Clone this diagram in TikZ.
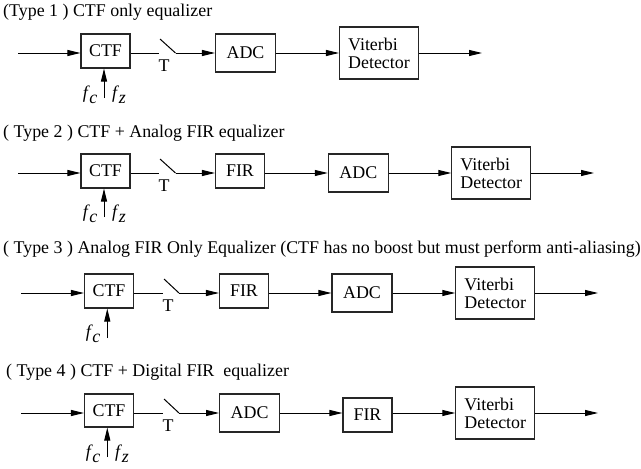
\documentclass[tikz,border=0pt]{standalone}
\usepackage{fontspec}
\setmainfont{Liberation Serif}
\usetikzlibrary{arrows.meta}
\newcommand{\myfc}{\textit{f}\kern-0.5pt\raisebox{-5pt}{\textit{c}}}
\newcommand{\myfz}{\textit{f}\kern-0.5pt\raisebox{-5pt}{\textit{z}}}
\begin{document}
\begin{tikzpicture}[x=1pt,y=-1pt,
  txt/.style={font=\fontsize{17.9}{18}\selectfont},
  blk/.style={draw=black!85, line width=1.1pt, inner sep=0pt, txt},
  vd/.style={blk, align=left, minimum width=79pt, minimum height=52pt},
  wire/.style={line width=1pt},
  arr/.style={wire, -{Triangle[length=13pt,width=6pt]}},
  ttl/.style={anchor=base west, inner sep=0pt, txt},
  lbl/.style={inner sep=0pt, txt}]
\useasboundingbox (0,0) rectangle (641,469);

% ---------------- Row 1 ----------------
\node[ttl] (t1) at (3,16) {(Type 1 ) CTF only equalizer};
\node[blk, minimum width=49pt, minimum height=34pt] (CTF1) at (105.5,51) {CTF};
\node[blk, minimum width=60pt, minimum height=38pt] (ADC1) at (245.5,53) {ADC};
\node[vd] (VD1) at (379,53) {Viterbi\\Detector};
\coordinate (i1) at (18,53);
\coordinate (s1) at (159,53);
\coordinate (q1) at (160,39);
\coordinate (p1) at (175.5,53);
\coordinate (o1) at (482,53);
\coordinate (f1) at (104,98);
\draw[arr] (i1) -- (i1 -| CTF1.west);
\draw[wire] (CTF1.east |- s1) -- (s1);
\draw[wire] (q1) -- (p1);
\draw[arr] (p1) -- (p1 -| ADC1.west);
\draw[arr] (ADC1.east |- p1) -- (VD1.west |- p1);
\draw[arr] (VD1.east |- o1) -- (o1);
\draw[arr] (f1) -- (f1 |- CTF1.south);
\node[lbl] (T1) at (164,66) {T};
\node[lbl] (fc1) at (90,95) {\myfc};
\node[lbl] (fz1) at (119,95) {\myfz};

% ---------------- Row 2 ----------------
\node[ttl] (t2) at (3,137) {( Type 2 ) CTF + Analog FIR equalizer};
\node[blk, minimum width=49pt, minimum height=34pt] (CTF2) at (105.5,171) {CTF};
\node[blk, minimum width=49pt, minimum height=34pt] (FIR2) at (240,171) {FIR};
\node[blk, minimum width=60pt, minimum height=38pt] (ADC2) at (358.3,173) {ADC};
\node[vd] (VD2) at (491.3,173) {Viterbi\\Detector};
\coordinate (i2) at (18,173);
\coordinate (s2) at (159,173);
\coordinate (q2) at (160,159);
\coordinate (p2) at (175.5,173);
\coordinate (o2) at (594,173);
\coordinate (f2) at (104,217);
\draw[arr] (i2) -- (i2 -| CTF2.west);
\draw[wire] (CTF2.east |- s2) -- (s2);
\draw[wire] (q2) -- (p2);
\draw[arr] (p2) -- (p2 -| FIR2.west);
\draw[arr] (FIR2.east |- p2) -- (ADC2.west |- p2);
\draw[arr] (ADC2.east |- p2) -- (VD2.west |- p2);
\draw[arr] (VD2.east |- o2) -- (o2);
\draw[arr] (f2) -- (f2 |- CTF2.south);
\node[lbl] (T2) at (164,186) {T};
\node[lbl] (fc2) at (90,214) {\myfc};
\node[lbl] (fz2) at (119,214) {\myfz};

% ---------------- Row 3 ----------------
\node[ttl] (t3) at (3,253) {( Type 3 ) Analog FIR Only Equalizer (CTF has no boost but must perform anti-aliasing)};
\node[blk, minimum width=49pt, minimum height=34pt] (CTF3) at (109,291) {CTF};
\node[blk, minimum width=49pt, minimum height=34pt] (FIR3) at (244,291) {FIR};
\node[blk, minimum width=60pt, minimum height=38pt] (ADC3) at (362,293) {ADC};
\node[vd] (VD3) at (495.3,293) {Viterbi\\Detector};
\coordinate (i3) at (21,293);
\coordinate (s3) at (163,293);
\coordinate (q3) at (164,279);
\coordinate (p3) at (179,293);
\coordinate (o3) at (598,293);
\coordinate (f3) at (107.3,338);
\draw[arr] (i3) -- (i3 -| CTF3.west);
\draw[wire] (CTF3.east |- s3) -- (s3);
\draw[wire] (q3) -- (p3);
\draw[arr] (p3) -- (p3 -| FIR3.west);
\draw[arr] (FIR3.east |- p3) -- (ADC3.west |- p3);
\draw[arr] (ADC3.east |- p3) -- (VD3.west |- p3);
\draw[arr] (VD3.east |- o3) -- (o3);
\draw[arr] (f3) -- (f3 |- CTF3.south);
\node[lbl] (T3) at (168,306) {T};
\node[lbl] (fc3) at (93,334) {\myfc};

% ---------------- Row 4 ----------------
\node[ttl] (t4) at (6,376) {( Type 4 ) CTF + Digital FIR \ equalizer};
\node[blk, minimum width=49pt, minimum height=33pt] (CTF4) at (109,410.5) {CTF};
\node[blk, minimum width=60pt, minimum height=38pt] (ADC4) at (249.6,413) {ADC};
\node[blk, minimum width=49pt, minimum height=34pt] (FIR4) at (367.5,415) {FIR};
\node[vd] (VD4) at (495.3,413) {Viterbi\\Detector};
\coordinate (i4) at (21,413);
\coordinate (s4) at (163,413);
\coordinate (q4) at (164,399);
\coordinate (p4) at (179,413);
\coordinate (o4) at (598,413);
\coordinate (f4) at (107.3,457);
\draw[arr] (i4) -- (i4 -| CTF4.west);
\draw[wire] (CTF4.east |- s4) -- (s4);
\draw[wire] (q4) -- (p4);
\draw[arr] (p4) -- (p4 -| ADC4.west);
\draw[arr] (ADC4.east |- p4) -- (FIR4.west |- p4);
\draw[arr] (FIR4.east |- p4) -- (VD4.west |- p4);
\draw[arr] (VD4.east |- o4) -- (o4);
\draw[arr] (f4) -- (f4 |- CTF4.south);
\node[lbl] (T4) at (168,426) {T};
\node[lbl] (fc4) at (93,454) {\myfc};
\node[lbl] (fz4) at (122,454) {\myfz};
\end{tikzpicture}
\end{document}
